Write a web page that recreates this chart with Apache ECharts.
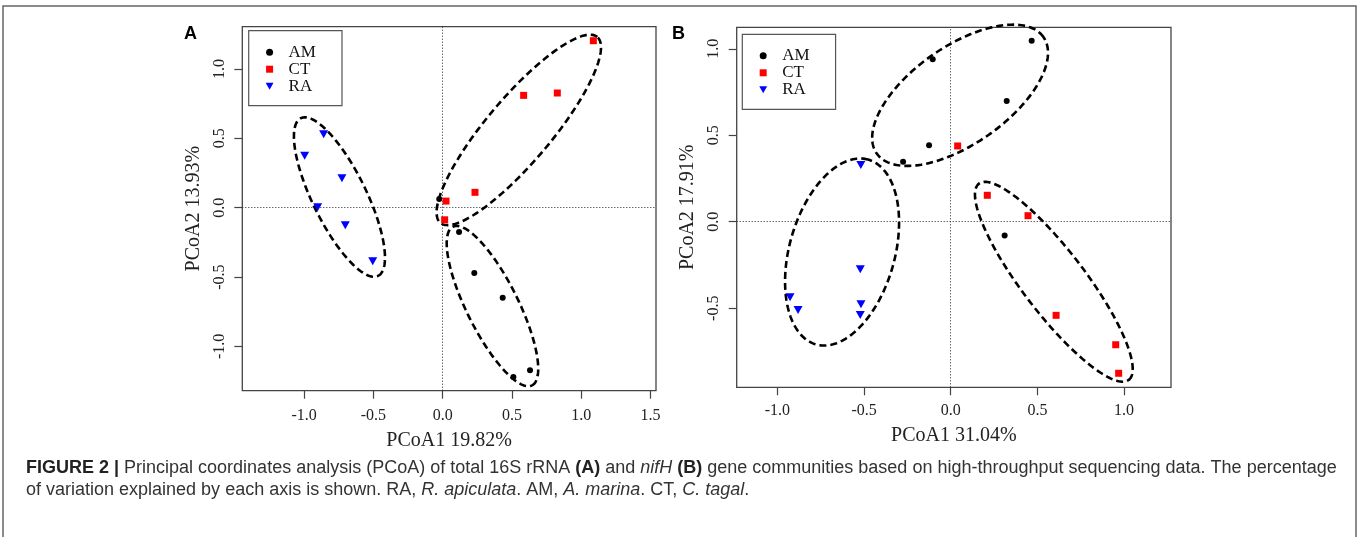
<!DOCTYPE html>
<html><head><meta charset="utf-8">
<script src="https://cdn.jsdelivr.net/npm/echarts@6/dist/echarts.min.js"></script>
<style>html,body{margin:0;padding:0;background:#fff}#c{width:1358px;height:537px}</style>
</head><body><div id="c"></div>
<script>
// ---------- data ----------
const groups = ['AM', 'CT', 'RA'];
const colors = ['#000000', '#ff0000', '#0000ff'];
// Panel A (16S rRNA)
const A_AM = [[-0.025, 0.063], [0.118, -0.175], [0.228, -0.471], [0.433, -0.649], [0.510, -1.221], [0.630, -1.172]];
const A_CT = [[1.087, 1.204], [0.584, 0.810], [0.827, 0.827], [0.233, 0.111], [0.024, 0.048], [0.014, -0.087]];
const A_RA = [[-0.859, 0.529], [-0.996, 0.375], [-0.727, 0.212], [-0.902, 0.003], [-0.703, -0.127], [-0.505, -0.386]];
// ellipses: [centerX, centerY, semiMajor, semiMinor, angleDeg]
const A_ELLIPSES = [[0.549, 0.561, 0.877, 0.232, 49.8], [0.359, -0.709, 0.639, 0.186, -63.5], [-0.745, 0.077, 0.633, 0.194, -63.9]];
// Panel B (nifH)
const B_AM = [[0.467, 1.046], [-0.104, 0.939], [0.323, 0.698], [-0.125, 0.442], [-0.275, 0.347], [0.311, -0.079]];
const B_CT = [[0.040, 0.438], [0.211, 0.153], [0.446, 0.035], [0.608, -0.541], [0.952, -0.711], [0.969, -0.876]];
const B_RA = [[-0.519, 0.328], [-0.522, -0.275], [-0.927, -0.437], [-0.881, -0.510], [-0.518, -0.477], [-0.522, -0.539]];
const B_ELLIPSES = [[0.054, 0.731, 0.587, 0.282, 35], [-0.627, -0.175, 0.555, 0.304, 74.3], [0.595, -0.347, 0.713, 0.180, -52.7]];
// ticks
const A_XTICKS = [-1.0, -0.5, 0.0, 0.5, 1.0, 1.5];
const A_YTICKS = [-1.0, -0.5, 0.0, 0.5, 1.0];
const B_XTICKS = [-1.0, -0.5, 0.0, 0.5, 1.0];
const B_YTICKS = [-0.5, 0.0, 0.5, 1.0];
const A_XTITLE = 'PCoA1 19.82%', A_YTITLE = 'PCoA2 13.93%';
const B_XTITLE = 'PCoA1 31.04%', B_YTITLE = 'PCoA2 17.91%';

// ---------- chart ----------
const serif = 'Liberation Serif';
const chart = echarts.init(document.getElementById('c'), null, {renderer: 'canvas'});

function xAxis(gi, min, max, ticks, title, margin, gap) {
  return {
    type: 'value', gridIndex: gi, min: min, max: max,
    name: title, nameLocation: 'middle', nameGap: gap,
    nameTextStyle: {fontFamily: serif, fontSize: 20, color: '#222'},
    axisLine: {show: false, onZero: false},
    axisTick: {show: true, inside: false, length: 8, customValues: ticks, lineStyle: {color: '#444', width: 1.2}},
    axisLabel: {customValues: ticks, fontFamily: serif, fontSize: 16, color: '#222', margin: margin,
      formatter: v => v.toFixed(1)},
    splitLine: {show: false}
  };
}
function yAxis(gi, min, max, ticks, title) {
  return {
    type: 'value', gridIndex: gi, min: min, max: max,
    name: title, nameLocation: 'middle', nameGap: 39,
    nameTextStyle: {fontFamily: serif, fontSize: 20, color: '#222'},
    axisLine: {show: false, onZero: false},
    axisTick: {show: true, inside: false, length: 8, customValues: ticks, lineStyle: {color: '#444', width: 1.2}},
    axisLabel: {customValues: ticks, fontFamily: serif, fontSize: 16, color: '#222', margin: 15, rotate: 90,
      formatter: v => v.toFixed(1)},
    splitLine: {show: false}
  };
}
function ellipseSeries(gi, data) {
  return {
    type: 'custom', xAxisIndex: gi, yAxisIndex: gi, silent: true, z: 1,
    data: data,
    encode: {x: 0, y: 1},
    renderItem: function (params, api) {
      const cx = api.value(0), cy = api.value(1), a = api.value(2), b = api.value(3);
      const th = api.value(4) * Math.PI / 180;
      const pts = [];
      for (let i = 0; i <= 200; i++) {
        const t = i / 200 * Math.PI * 2;
        const x = cx + a * Math.cos(t) * Math.cos(th) - b * Math.sin(t) * Math.sin(th);
        const y = cy + a * Math.cos(t) * Math.sin(th) + b * Math.sin(t) * Math.cos(th);
        pts.push(api.coord([x, y]));
      }
      return {type: 'polyline', shape: {points: pts},
        style: {fill: null, stroke: '#000', lineWidth: 2.6, lineDash: [7, 4]}};
    }
  };
}
const symbolOf = {AM: 'circle', CT: 'rect', RA: 'triangle'};
const sizeOf = {AM: 6, CT: 7, RA: [9, 8]};
function scatter(gi, name, data, withRef) {
  const s = {
    type: 'scatter', name: name, xAxisIndex: gi, yAxisIndex: gi, z: 3,
    data: data, symbol: symbolOf[name], symbolSize: sizeOf[name],
    symbolRotate: name === 'RA' ? 180 : 0,
    itemStyle: {color: colors[groups.indexOf(name)], opacity: 1}
  };
  if (withRef) {
    s.markLine = {silent: true, symbol: 'none', label: {show: false}, z: 0,
      lineStyle: {type: [1, 2], color: '#222', width: 1},
      data: [{xAxis: 0}, {yAxis: 0}]};
  }
  return s;
}
const legendIcons = {
  AM: 'circle',
  CT: 'path://M0,0 L10,0 L10,10 L0,10 Z',
  RA: 'path://M0,0 L10,0 L5,9 Z'
};
function legend(gi, left, top) {
  return {
    show: true, orient: 'vertical', left: left, top: top,
    data: groups.map(g => ({name: g, icon: legendIcons[g]})),
    itemWidth: 26, itemHeight: 7, itemGap: 0,
    padding: [13, 26, 11, 17],
    borderColor: '#555', borderWidth: 1.2, selectedMode: false,
    itemStyle: {opacity: 1},
    textStyle: {fontFamily: serif, fontSize: 17, color: '#111', lineHeight: 17, padding: [0, 0, 0, 1]}
  };
}

const option = {
  animation: false,
  backgroundColor: '#fff',
  grid: [
    {left: 242.3, top: 26.7, width: 413.7, height: 364, show: true, borderColor: '#444', borderWidth: 1.3},
    {left: 736.7, top: 27.3, width: 434.3, height: 360, show: true, borderColor: '#444', borderWidth: 1.3}
  ],
  xAxis: [xAxis(0, -1.446, 1.539, A_XTICKS, A_XTITLE, 17, 40), xAxis(1, -1.235, 1.271, B_XTICKS, B_XTITLE, 15, 38)],
  yAxis: [yAxis(0, -1.319, 1.305, A_YTICKS, A_YTITLE), yAxis(1, -0.957, 1.124, B_YTICKS, B_YTITLE)],
  legend: [legend(0, 248.7, 30.7), legend(1, 742.3, 34.3)],
  series: [
    ellipseSeries(0, A_ELLIPSES),
    scatter(0, 'AM', A_AM, true), scatter(0, 'CT', A_CT), scatter(0, 'RA', A_RA),
    ellipseSeries(1, B_ELLIPSES),
    scatter(1, 'AM', B_AM, true), scatter(1, 'CT', B_CT), scatter(1, 'RA', B_RA)
  ],
  graphic: [
    {type: 'rect', shape: {x: 3, y: 6, width: 1353, height: 540}, style: {fill: null, stroke: '#666', lineWidth: 1.5}, silent: true},
    {type: 'text', left: 184, top: 25, style: {text: 'A', font: 'bold 18px "Liberation Sans"', fill: '#000'}},
    {type: 'text', left: 672, top: 25, style: {text: 'B', font: 'bold 18px "Liberation Sans"', fill: '#000'}},
    {type: 'text', left: 26, top: 457, style: {
      text: '{b|FIGURE 2 |} Principal coordinates analysis (PCoA) of total 16S rRNA {b|(A)} and {i|nifH} {b|(B)} gene communities based on high-throughput sequencing data. The percentage\nof variation explained by each axis is shown. RA, {i|R. apiculata}. AM, {i|A. marina}. CT, {i|C. tagal}.',
      fontFamily: 'Liberation Sans', fontSize: 18, fill: '#333', lineHeight: 22,
      rich: {
        b: {fontFamily: 'Liberation Sans', fontWeight: 'bold', fontSize: 18, fill: '#222', lineHeight: 22},
        i: {fontFamily: 'Liberation Sans', fontStyle: 'italic', fontSize: 18, fill: '#333', lineHeight: 22}
      }
    }}
  ]
};
chart.setOption(option);
</script></body></html>
